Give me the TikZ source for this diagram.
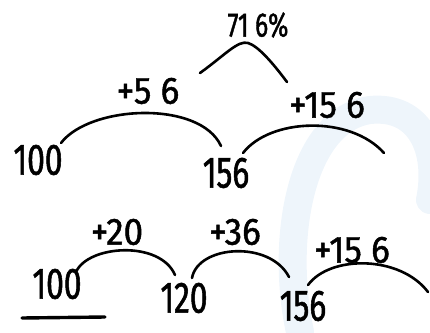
\documentclass[tikz,border=0pt]{standalone}
\usepackage{fontspec}
\newfontfamily\handfont[FakeStretch=0.72,FakeBold=1.2]{Fira Sans}
\newfontfamily\labfont[FakeStretch=0.92,FakeBold=1.2]{Fira Sans}
\definecolor{wm}{HTML}{EEF5FB}
\begin{document}
\begin{tikzpicture}[x=1pt,y=-1pt,
  hand/.style={line width=2.6pt,line cap=round,line join=round,black},
  num/.style={inner sep=0pt,font=\handfont\fontsize{44}{46}\selectfont},
  lab/.style={inner sep=0pt,font=\labfont\fontsize{38}{40}\selectfont}]
\useasboundingbox (0,0) rectangle (430,332);
% faint watermark
\draw[wm,line width=28pt,line cap=round] (300,332) .. controls (280,240) and (300,120) .. (370,110) .. controls (420,105) and (440,150) .. (430,200);
% top tree
\node[lab,font=\handfont\fontsize{34}{36}\selectfont] (pct) at (258,25) {71 6\%};
\coordinate (h1) at (200,73);
\coordinate (h2) at (287,82);
\draw[hand] (h1) .. controls (225,55) and (238,40) .. (248,43) .. controls (258,46) and (272,62) .. (h2);
\node[lab] (p56) at (148,91) {+5 6};
\node[num] (a100) at (38,160) {100};
\node[num] (a156) at (226,173) {156};
\node[lab] (p156a) at (327,105) {+15 6};
\coordinate (c1) at (61,143);
\coordinate (c2) at (221,146);
\draw[hand] (c1) .. controls (90,105) and (200,100) .. (c2);
\coordinate (c3) at (243,153);
\coordinate (c4) at (384,153);
\draw[hand] (c3) .. controls (270,118) and (350,115) .. (c4);
% bottom line
\node[lab] (p20) at (117,232) {+20};
\node[lab] (p36) at (235,232) {+36};
\node[lab] (p156b) at (352,250) {+15 6};
\node[num] (b100) at (57,284) {100};
\node[num] (b120) at (184,298) {120};
\node[num] (b156) at (303,306) {156};
\coordinate (u1) at (22,318);
\coordinate (u2) at (105,317);
\draw[hand,line width=3.4pt] (u1) -- (u2);
\coordinate (d1) at (76,272);
\coordinate (d2) at (175,275);
\draw[hand] (d1) .. controls (88,245) and (160,240) .. (d2);
\coordinate (d3) at (192,278);
\coordinate (d4) at (289,277);
\draw[hand] (d3) .. controls (198,245) and (270,240) .. (d4);
\coordinate (d5) at (308,285);
\coordinate (d6) at (428,292);
\draw[hand] (d5) .. controls (330,255) and (400,255) .. (d6);
\end{tikzpicture}
\end{document}
